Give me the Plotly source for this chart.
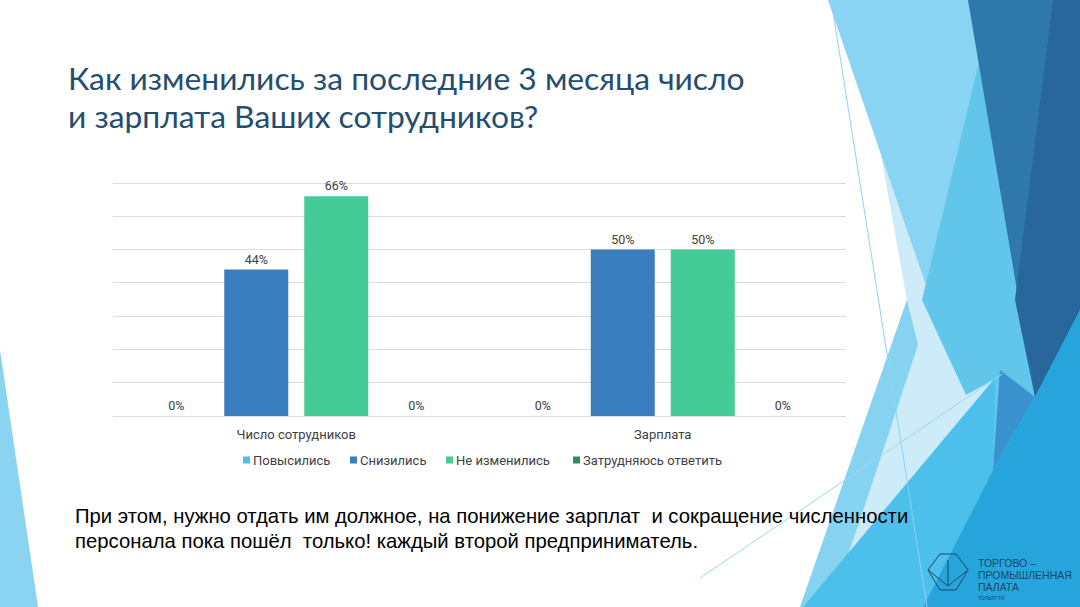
import plotly.graph_objects as go

# ---------------- data ----------------
categories = ["Число сотрудников", "Зарплата"]
series_names = ["Повысились", "Снизились", "Не изменились", "Затрудняюсь ответить"]
vals_povysilis = [0, 0]
vals_snizilis = [44, 50]
vals_ne_izmenilis = [66, 50]
vals_zatrudnyayus = [0, 0]
series_values = [vals_povysilis, vals_snizilis, vals_ne_izmenilis, vals_zatrudnyayus]
series_colors = ["#4FC1E9", "#3A7EBF", "#44CB98", "#2E8B5E"]
grid_values = [0, 10, 20, 30, 40, 50, 60, 70]

title_lines = ["Как изменились за последние 3 месяца число", "и зарплата Ваших сотрудников?"]
body_lines = ["При этом, нужно отдать им должное, на понижение зарплат  и сокращение численности",
              "персонала пока пошёл  только! каждый второй предприниматель."]
logo_lines = ["ТОРГОВО –", "ПРОМЫШЛЕННАЯ", "ПАЛАТА"]
logo_city = "ТОЛЬЯТТИ"

W, H = 1080, 607

def px(x):
    return x / W

def py(y):
    return 1 - y / H

fig = go.Figure()
for name, vals, col in zip(series_names, series_values, series_colors):
    fig.add_trace(go.Bar(
        x=categories, y=vals, name=name,
        marker=dict(color=col, line=dict(width=0)),
        text=[f"{v}%" for v in vals], textposition="outside",
        textfont=dict(family="Roboto", size=12.5, color="#404040"),
        cliponaxis=False, showlegend=False,
    ))

# ---------------- decorative background ----------------
def poly(points, color, opacity=1.0):
    d = "M " + " L ".join(f"{px(x):.5f},{py(y):.5f}" for x, y in points) + " Z"
    return dict(type="path", path=d, xref="paper", yref="paper",
                fillcolor=color, opacity=opacity, line=dict(width=0), layer="below")

shapes = [
    # left bottom sliver
    poly([(0, 350), (38, 607), (0, 607)], "#8AD4F2"),
    # pale base
    poly([(853, 0), (1080, 0), (1080, 607), (800, 607), (907, 300)], "#CDEBF8"),
    # light blue upper triangle
    poly([(828, 0), (972, 0), (980, 58), (931, 300)], "#88D4F2"),
    # medium blue
    poly([(972, 0), (1080, 0), (1080, 607), (923, 607), (993, 380), (966, 395), (922, 300), (980, 58)], "#62C6EB"),
    # steel blue
    poly([(968, 0), (1080, 0), (1080, 310), (1035, 397)], "#2E78AC"),
    # darker steel
    poly([(1053, 0), (1080, 0), (1080, 310), (1035, 397), (1015, 300)], "#28679D"),
    # blue wedge below dark apex
    poly([(1000, 370), (1035, 397), (993, 470)], "#3A93CF"),
    # lower right cyan blue
    poly([(1035, 397), (1080, 310), (1080, 607), (923, 607), (993, 470)], "#25A5DC"),
    # lower-left light triangle
    poly([(907, 300), (918, 345), (860, 520), (830, 607), (800, 607)], "#86D2F1"),
    # lower-left medium triangle
    poly([(803, 607), (995, 378), (993, 470), (923, 607)], "#4CBFEA"),
]
# thin lines
shapes.append(dict(type="line", xref="paper", yref="paper",
                   x0=px(833), y0=py(12), x1=px(927), y1=py(607),
                   line=dict(color="#8FD3F0", width=1), layer="below"))
shapes.append(dict(type="line", xref="paper", yref="paper",
                   x0=px(700), y0=py(578), x1=px(1002), y1=py(374),
                   line=dict(color="#9AD8F2", width=1), layer="below"))

# legend markers (custom legend)
legend_square_x = [243, 350, 446, 573]
legend_y = 460
for lx, col in zip(legend_square_x, series_colors):
    shapes.append(dict(type="rect", xref="paper", yref="paper",
                       x0=px(lx), x1=px(lx + 7), y0=py(legend_y + 3.5), y1=py(legend_y - 3.5),
                       fillcolor=col, line=dict(width=0)))

# logo hexagon
hx, hy = 948, 572
hex_pts = [(hx - 20, hy - 2), (hx - 8, hy - 18), (hx + 8, hy - 18), (hx + 20, hy - 2), (hx + 8, hy + 18), (hx - 8, hy + 18)]
shapes.append(dict(type="path", xref="paper", yref="paper",
                   path="M " + " L ".join(f"{px(x):.5f},{py(y):.5f}" for x, y in hex_pts) + " Z",
                   line=dict(color="#1E4666", width=1), fillcolor="rgba(0,0,0,0)"))
shapes.append(dict(type="path", xref="paper", yref="paper",
                   path=f"M {px(hx-20):.5f},{py(hy-2):.5f} L {px(hx):.5f},{py(hy+14):.5f} L {px(hx+20):.5f},{py(hy-2):.5f}",
                   line=dict(color="#1E4666", width=1)))
shapes.append(dict(type="line", xref="paper", yref="paper",
                   x0=px(hx), y0=py(hy - 12), x1=px(hx), y1=py(hy + 14),
                   line=dict(color="#1E4666", width=1)))

annotations = []
# title
for i, t in enumerate(title_lines):
    annotations.append(dict(text=t, x=px(66), y=py(78 + i * 38), xref="paper", yref="paper",
                            xanchor="left", yanchor="middle", showarrow=False,
                            font=dict(family="Lato", size=31.8, color="#244E6E")))
# body
for i, t in enumerate(body_lines):
    annotations.append(dict(text=t, x=px(73), y=py(516 + i * 25), xref="paper", yref="paper",
                            xanchor="left", yanchor="middle", showarrow=False,
                            font=dict(family="Liberation Sans", size=20.3, color="#000000")))
# legend text
for lx, name in zip(legend_square_x, series_names):
    annotations.append(dict(text=name, x=px(lx + 8), y=py(legend_y), xref="paper", yref="paper",
                            xanchor="left", yanchor="middle", showarrow=False,
                            font=dict(family="Roboto", size=13, color="#404040")))
# logo text
for i, t in enumerate(logo_lines):
    annotations.append(dict(text=t, x=px(976), y=py(563 + i * 12), xref="paper", yref="paper",
                            xanchor="left", yanchor="middle", showarrow=False,
                            font=dict(family="Liberation Sans", size=10.5, color="#1E4666")))
annotations.append(dict(text=logo_city, x=px(976), y=py(598), xref="paper", yref="paper",
                        xanchor="left", yanchor="middle", showarrow=False,
                        font=dict(family="Liberation Sans", size=5, color="#1E4666")))

fig.update_layout(
    width=W, height=H,
    margin=dict(l=0, r=0, t=0, b=0),
    paper_bgcolor="#FFFFFF", plot_bgcolor="rgba(0,0,0,0)",
    barmode="group", bargap=0.127, bargroupgap=0.2,
    showlegend=False,
    xaxis=dict(domain=[px(113), px(846)], showgrid=False, showline=False, zeroline=False,
               ticks="outside", ticklen=6, tickcolor="rgba(0,0,0,0)",
               tickfont=dict(family="Roboto", size=13, color="#404040")),
    yaxis=dict(domain=[py(416), py(179.7)], range=[0, 71], tickvals=grid_values,
               showticklabels=False,
               showgrid=True, gridcolor="#DCDCDC", gridwidth=1, zeroline=True,
               zerolinecolor="#DCDCDC", zerolinewidth=1, showline=False, ticks=""),
    shapes=shapes,
    annotations=annotations,
)

fig.write_html("out.html", config={"displayModeBar": False},
               post_script="document.body.style.margin='0';document.body.style.padding='0';document.body.style.overflow='hidden';")
